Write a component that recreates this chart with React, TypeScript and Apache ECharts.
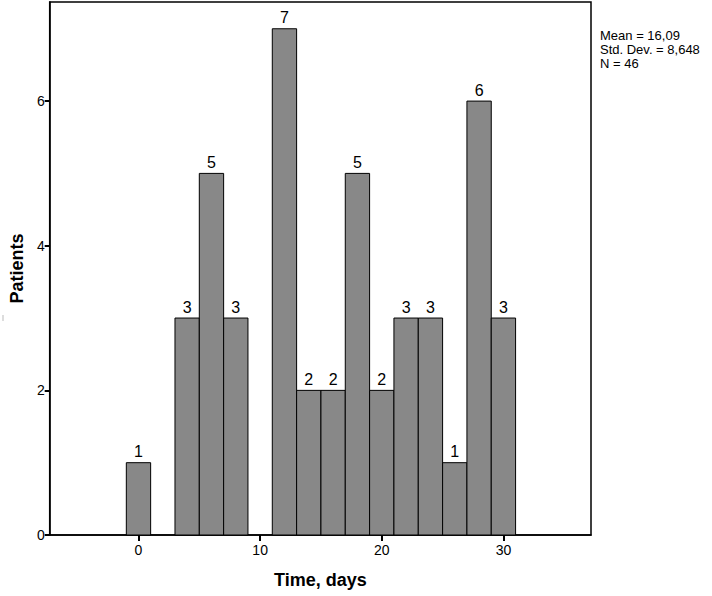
import React, { useEffect, useRef } from "react";
import * as echarts from "echarts";

const binCenters = [0, 4, 6, 8, 12, 14, 16, 18, 20, 22, 24, 26, 28, 30];
const counts = [1, 3, 5, 3, 7, 2, 2, 5, 2, 3, 3, 1, 6, 3];
const binWidth = 2;
const xTicks = [0, 10, 20, 30];
const yTicks = [0, 2, 4, 6];
const statsLines = ["Mean = 16,09", "Std. Dev. = 8,648", "N = 46"];

export default function App() {
  const ref = useRef<HTMLDivElement>(null);
  useEffect(() => {
    const chart = echarts.init(ref.current!, null, { renderer: "svg" });
    const data = binCenters.map((c, i) => [c, counts[i]]);
    chart.setOption({
      animation: false,
      backgroundColor: "#ffffff",
      textStyle: { fontFamily: "Liberation Sans, Arial, sans-serif" },
      grid: {
        left: 48,
        top: 2,
        right: 121,
        bottom: 61,
        show: true,
        borderColor: "#000",
        borderWidth: 1.5,
      },
      xAxis: {
        type: "value",
        min: -7.3,
        max: 37.2,
        splitLine: { show: false },
        axisLine: { show: true, onZero: false, lineStyle: { color: "#000", width: 1.5 } },
        axisTick: { show: true, length: 6, customValues: xTicks, lineStyle: { color: "#000", width: 2 } },
        axisLabel: { customValues: xTicks, color: "#000", fontSize: 14, margin: 8 },
        name: "Time, days",
        nameLocation: "middle",
        nameGap: 36,
        nameTextStyle: { fontSize: 18, fontWeight: "bold", color: "#000" },
      },
      yAxis: {
        type: "value",
        min: 0,
        max: 7.37,
        splitLine: { show: false },
        axisLine: { show: true, onZero: false, lineStyle: { color: "#000", width: 1.5 } },
        axisTick: { show: true, length: 5, customValues: yTicks, lineStyle: { color: "#000", width: 2 } },
        axisLabel: { customValues: yTicks, color: "#000", fontSize: 14, margin: 5 },
        name: "Patients",
        nameLocation: "middle",
        nameGap: 22,
        nameTextStyle: { fontSize: 18, fontWeight: "bold", color: "#000" },
      },
      series: [
        {
          type: "custom",
          data,
          renderItem: (params: any, api: any) => {
            const c = api.value(0);
            const v = api.value(1);
            const p0 = api.coord([c - binWidth / 2, 0]);
            const p1 = api.coord([c + binWidth / 2, v]);
            return {
              type: "group",
              children: [
                {
                  type: "rect",
                  shape: { x: p0[0], y: p1[1], width: p1[0] - p0[0], height: p0[1] - p1[1] },
                  style: { fill: "#888888", stroke: "#000", lineWidth: 1 },
                },
                {
                  type: "text",
                  style: {
                    x: (p0[0] + p1[0]) / 2,
                    y: p1[1] - 3,
                    text: String(v),
                    align: "center",
                    verticalAlign: "bottom",
                    fontSize: 16,
                    fill: "#000",
                    fontFamily: "Liberation Sans, Arial, sans-serif",
                  },
                },
              ],
            };
          },
        },
      ],
      graphic: [
        {
          type: "text",
          left: 600,
          top: 28,
          style: {
            text: statsLines.join("\n"),
            fontSize: 13,
            lineHeight: 14,
            fill: "#000",
            fontFamily: "Liberation Sans, Arial, sans-serif",
          },
        },
        {
          type: "line",
          shape: { x1: 3, y1: 315, x2: 3, y2: 321 },
          style: { stroke: "#bbb", lineWidth: 1 },
        },
      ],
    });
    return () => chart.dispose();
  }, []);
  return (
    <div
      ref={ref}
      style={{ position: "fixed", left: 0, top: 0, width: 712, height: 596 }}
    />
  );
}
